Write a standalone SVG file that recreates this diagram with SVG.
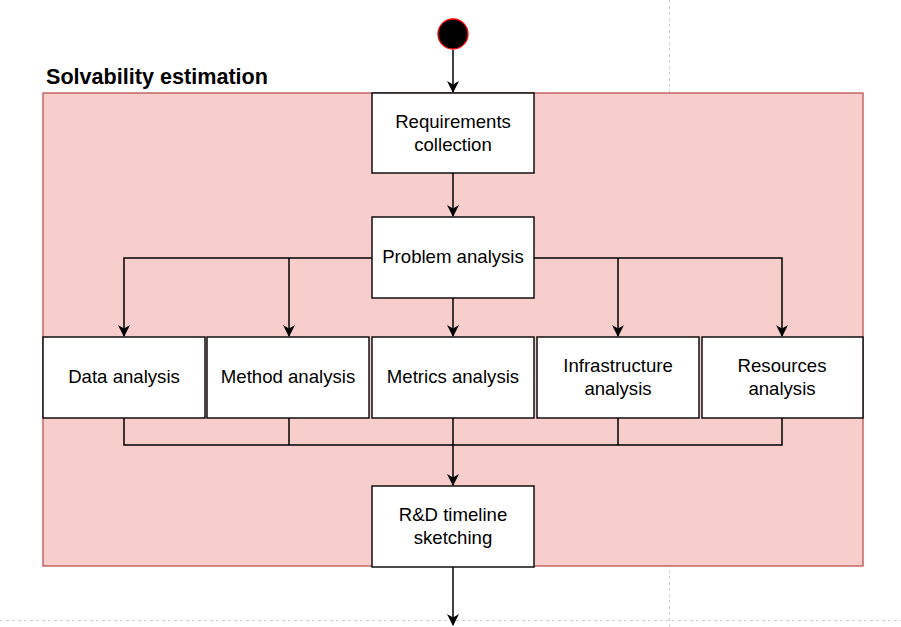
<svg xmlns="http://www.w3.org/2000/svg" width="901" height="627" viewBox="0 0 901 627">
<defs>
<style>
.node{fill:#ffffff;stroke:#000000;stroke-width:1.4}
.lbl{font-family:"Liberation Sans",Arial,sans-serif;font-size:18.6px;fill:#000;text-anchor:middle}
.edge{fill:none;stroke:#000;stroke-width:1.5}
.guide{fill:none;stroke:#d0d0d0;stroke-width:1;stroke-dasharray:3 3}
</style>
<marker id="arr" viewBox="0 0 12 12" refX="11" refY="6" markerWidth="12" markerHeight="12" markerUnits="userSpaceOnUse" orient="auto">
<path d="M0,0 L12,6 L0,12 L3.5,6 z" fill="#000"/>
</marker>
</defs>
<rect width="901" height="627" fill="#fff"/>
<g id="guides">
<line class="guide" x1="669.5" y1="0" x2="669.5" y2="627"/>
<line class="guide" x1="0" y1="620.5" x2="901" y2="620.5"/>
</g>
<g id="container">
<rect x="43" y="93" width="820" height="473" fill="#f8cecc" stroke="#b85450" stroke-width="1.3"/>
<text x="46" y="84" font-family="'Liberation Sans',Arial,sans-serif" font-size="21.6" font-weight="bold">Solvability estimation</text>
</g>
<g id="connectors">
<line class="edge" x1="453" y1="50" x2="453" y2="92" marker-end="url(#arr)"/>
<line class="edge" x1="453" y1="173" x2="453" y2="216" marker-end="url(#arr)"/>
<polyline class="edge" points="372,258 124,258 124,336" marker-end="url(#arr)"/>
<polyline class="edge" points="289,258 289,336" marker-end="url(#arr)"/>
<line class="edge" x1="453" y1="298" x2="453" y2="336" marker-end="url(#arr)"/>
<polyline class="edge" points="534,258 782,258 782,336" marker-end="url(#arr)"/>
<polyline class="edge" points="618,258 618,336" marker-end="url(#arr)"/>
<polyline class="edge" points="124,418 124,445 782,445 782,418"/>
<line class="edge" x1="289" y1="418" x2="289" y2="445"/>
<line class="edge" x1="618" y1="418" x2="618" y2="445"/>
<line class="edge" x1="453" y1="418" x2="453" y2="485" marker-end="url(#arr)"/>
<line class="edge" x1="453" y1="567" x2="453" y2="625" marker-end="url(#arr)"/>
</g>
<g id="start">
<circle cx="453" cy="34" r="15" fill="#000" stroke="#ff0000" stroke-width="1.3"/>
</g>
<g id="req">
<rect class="node" x="372" y="93" width="162" height="80"/>
<text class="lbl" x="453" y="128">Requirements</text>
<text class="lbl" x="453" y="151">collection</text>
</g>
<g id="problem">
<rect class="node" x="372" y="217" width="162" height="81"/>
<text class="lbl" x="453" y="263">Problem analysis</text>
</g>
<g id="data">
<rect class="node" x="43" y="337" width="162" height="81"/>
<text class="lbl" x="124" y="383">Data analysis</text>
</g>
<g id="method">
<rect class="node" x="207" y="337" width="162" height="81"/>
<text class="lbl" x="288" y="383">Method analysis</text>
</g>
<g id="metrics">
<rect class="node" x="372" y="337" width="162" height="81"/>
<text class="lbl" x="453" y="383">Metrics analysis</text>
</g>
<g id="infra">
<rect class="node" x="537" y="337" width="162" height="81"/>
<text class="lbl" x="618" y="372">Infrastructure</text>
<text class="lbl" x="618" y="395">analysis</text>
</g>
<g id="resources">
<rect class="node" x="702" y="337" width="161" height="81"/>
<text class="lbl" x="782" y="372">Resources</text>
<text class="lbl" x="782" y="395">analysis</text>
</g>
<g id="rd">
<rect class="node" x="372" y="486" width="162" height="81"/>
<text class="lbl" x="453" y="521">R&amp;D timeline</text>
<text class="lbl" x="453" y="544">sketching</text>
</g>
</svg>
